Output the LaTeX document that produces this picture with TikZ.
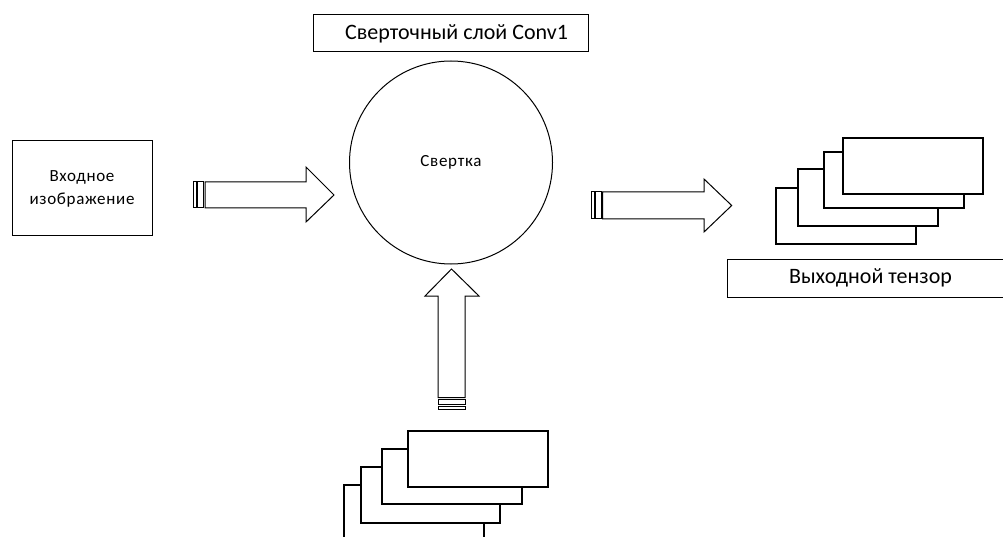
\documentclass[tikz,border=0pt]{standalone}
\usepackage{fontspec}
\setmainfont{Carlito}
\begin{document}
\begin{tikzpicture}[x=1pt,y=-1pt,line width=1pt,
  box/.style={draw=black,fill=white,inner sep=0pt,align=center},
  blockarrow/.style={draw=black,fill=white,line join=miter},
  sheet/.style={draw=black,fill=white,line width=1.1pt}]
\useasboundingbox (0,0) rectangle (1003,537);
% input image box
\node[box,minimum width=140pt,minimum height=95pt,font=\fontsize{17}{23}\selectfont\addfontfeature{LetterSpace=4}] (inp) at (82,188.5) {Входное\\изображение};
% title
\node[box,minimum width=275pt,minimum height=37pt,font=\fontsize{22}{26}\selectfont] (title) at (450.5,33.5) {\hspace*{12pt}Сверточный слой Conv1};
% convolution circle
\node[box,circle,minimum size=203pt,font=\fontsize{17}{20}\selectfont\addfontfeature{LetterSpace=4}] (conv) at (451,162.5) {Свертка};
% output label
\node[box,minimum width=287pt,minimum height=38pt,font=\fontsize{22}{26}\selectfont] (outl) at (870.5,278) {Выходной тензор};
% output tensor stack
\node[sheet,minimum width=140pt,minimum height=56pt] (o4) at (846,216) {};
\node[sheet,minimum width=140pt,minimum height=57pt] (o3) at (868,197.5) {};
\node[sheet,minimum width=140pt,minimum height=56pt] (o2) at (894,180) {};
\node[sheet,minimum width=140pt,minimum height=56pt] (o1) at (913,166) {};
% kernel stack (bottom)
\node[sheet,minimum width=140pt,minimum height=75pt] (k4) at (414,522.5) {};
\node[sheet,minimum width=139pt,minimum height=56pt] (k3) at (430.5,495) {};
\node[sheet,minimum width=140pt,minimum height=55pt] (k2) at (452,476.5) {};
\node[sheet,minimum width=140pt,minimum height=56pt] (k1) at (478,459) {};
% striped arrow: input -> conv
\draw[blockarrow] (193,182) rectangle (196.7,208);
\draw[blockarrow] (197.7,182) rectangle (203.5,208);
\draw[blockarrow] (205,182) -- (306,182) -- (306,167) -- (334,195) -- (306,222) -- (306,208) -- (205,208) -- cycle;
% striped arrow: conv -> output
\draw[blockarrow] (591,192) rectangle (594.7,219);
\draw[blockarrow] (595.7,192) rectangle (601.5,219);
\draw[blockarrow] (602.7,192) -- (704,192) -- (704,179) -- (731.7,205.5) -- (704,232) -- (704,219) -- (602.7,219) -- cycle;
% striped arrow: kernels -> conv
\draw[blockarrow] (438,406.7) rectangle (465,409.3);
\draw[blockarrow] (438,399.7) rectangle (465,404.7);
\draw[blockarrow] (438,397.5) -- (438,296) -- (425,296) -- (451.5,269) -- (479,296) -- (465,296) -- (465,397.5) -- cycle;
\end{tikzpicture}
\end{document}
